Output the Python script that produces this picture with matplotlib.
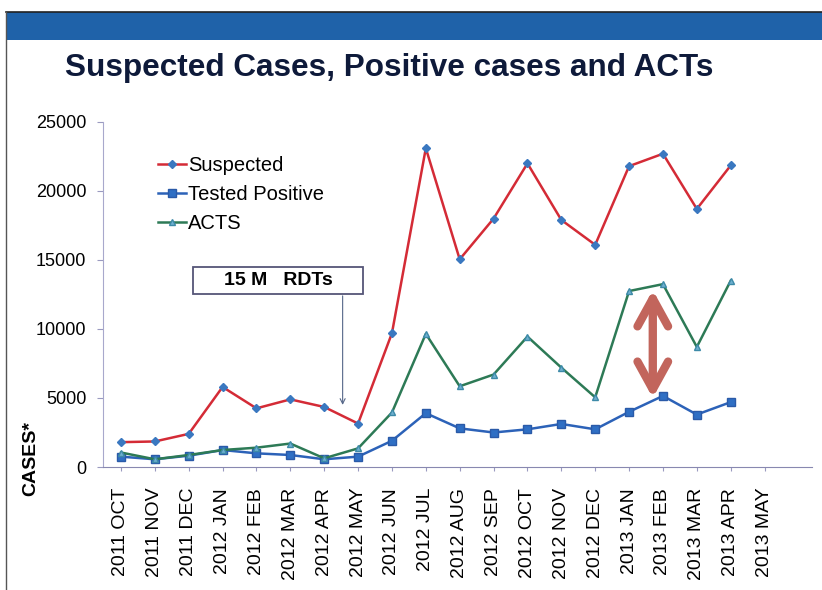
import matplotlib.pyplot as plt
from matplotlib.patches import Rectangle, FancyArrowPatch, ArrowStyle
from matplotlib.lines import Line2D

plt.rcParams['font.family'] = ['Liberation Sans', 'DejaVu Sans']

months = ["2011 OCT", "2011 NOV", "2011 DEC", "2012 JAN", "2012 FEB",
          "2012 MAR", "2012 APR", "2012 MAY", "2012 JUN", "2012 JUL",
          "2012 AUG", "2012 SEP", "2012 OCT", "2012 NOV", "2012 DEC",
          "2013 JAN", "2013 FEB", "2013 MAR", "2013 APR", "2013 MAY"]
suspected = [1800, 1850, 2400, 5800, 4250, 4900, 4350, 3150, 9700, 23100,
             15050, 18000, 22000, 17900, 16100, 21800, 22700, 18700, 21850]
positive = [750, 560, 820, 1230, 990, 870, 560, 750, 1900, 3900,
            2800, 2500, 2730, 3120, 2730, 4000, 5150, 3800, 4700]
acts = [1050, 560, 870, 1230, 1400, 1700, 630, 1350, 3950, 9650,
        5850, 6700, 9450, 7200, 5050, 12750, 13250, 8700, 13500]

W, H = 822, 590
fig = plt.figure(figsize=(W/100, H/100), dpi=100)

# blue banner on top
fig.patches.append(Rectangle((6/W, 1-40/H), 1, 28/H, transform=fig.transFigure,
                             facecolor="#1f62a9", edgecolor="none"))
fig.add_artist(Line2D([6/W, 1], [1-12/H, 1-12/H], color="#222222", lw=1.2))
fig.add_artist(Line2D([6/W, 6/W], [0, 1-12/H], color="#555555", lw=1.0))

fig.text(65/W, 1-68/H, "Suspected Cases, Positive cases and ACTs",
         fontsize=22.7, fontweight="bold", color="#0e1a3a", va="center")

ax = fig.add_axes([103/W, 1-467/H, 709/W, 345/H])
x = list(range(len(suspected)))

ax.plot(x, suspected, color="#d42b36", lw=1.8, marker="D", markersize=4,
        markerfacecolor="#3a78c0", markeredgecolor="#3a78c0", label="Suspected")
ax.plot(x, positive, color="#2c62b8", lw=1.8, marker="s", markersize=6,
        markerfacecolor="#2f6fc4", markeredgecolor="#2a5aa8", label="Tested Positive")
ax.plot(x, acts, color="#2d7a56", lw=1.8, marker="^", markersize=5,
        markerfacecolor="#6fb0cf", markeredgecolor="#3d8aa8", label="ACTS")

ax.set_ylim(0, 25000)
ax.set_xlim(-0.53, 20.4)
ax.set_yticks([0, 5000, 10000, 15000, 20000, 25000])
ax.set_xticks(range(len(months)))
ax.set_xticklabels(months, rotation=90, fontsize=14, va="top")
ax.tick_params(axis="y", labelsize=13, length=4, color="#9a9ac0", pad=8)
ax.tick_params(axis="x", length=3, color="#9a9ac0", pad=12)
for s in ["top", "right"]:
    ax.spines[s].set_visible(False)
ax.spines["left"].set_color("#a8a8cc")
ax.spines["left"].set_linestyle((0, (2, 1)))
ax.spines["bottom"].set_color("#8888b0")

ax.legend(loc="upper left", bbox_to_anchor=(0.052, 0.955), frameon=False,
          fontsize=14.5, handlelength=1.4, handletextpad=0.1, labelspacing=0.5)

# "15 M RDTs" box with arrow pointing down to May 2012
ax.add_patch(Rectangle((0.127, 0.501), 0.240, 0.079, transform=ax.transAxes,
                       facecolor="white", edgecolor="#555577", lw=1.3, zorder=4))
ax.text(0.247, 0.5406, "15 M   RDTs", transform=ax.transAxes, fontsize=14,
        fontweight="bold", ha="center", va="center", zorder=5)
ax.annotate("", xy=(0.338, 0.18), xytext=(0.338, 0.496),
            xycoords="axes fraction", textcoords="axes fraction",
            arrowprops=dict(arrowstyle="->", color="#556688", lw=0.8,
                            mutation_scale=9, shrinkA=0, shrinkB=0))

# double arrow between ACTS and positive
dbl = FancyArrowPatch((15.7, 12830), (15.7, 5000),
                      arrowstyle=ArrowStyle("<->", head_length=1.0, head_width=0.55),
                      mutation_scale=20, color="#c2655c", lw=6,
                      shrinkA=0, shrinkB=0, capstyle="round", joinstyle="round")
ax.add_patch(dbl)

fig.text(31/W, 1-458/H, "CASES*", rotation=90, fontsize=14,
         fontweight="bold", ha="center", va="center")

fig.savefig("out.png", dpi=100)
